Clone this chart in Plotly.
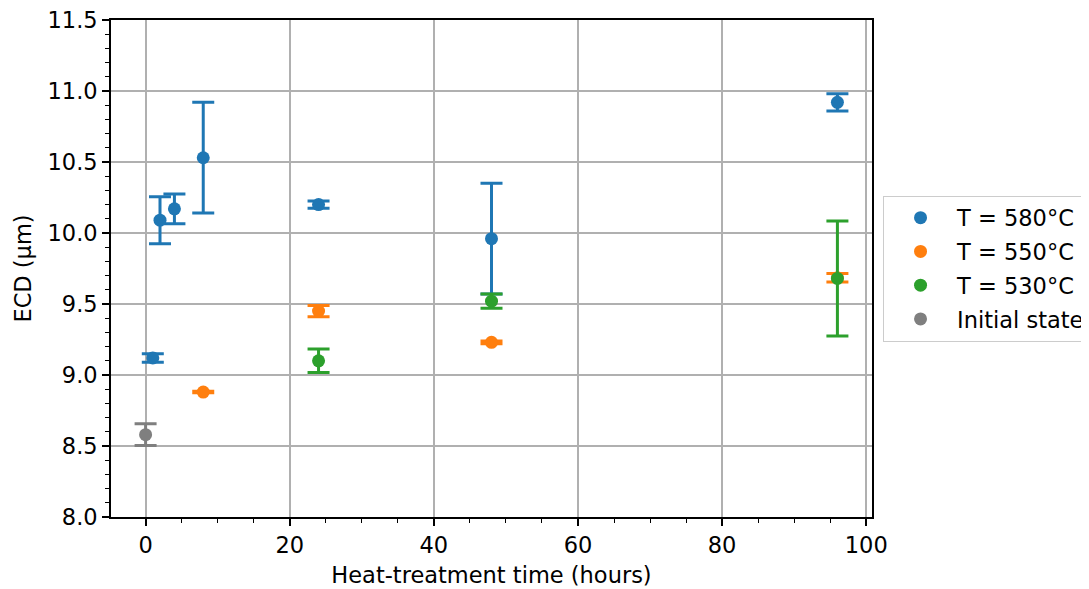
import plotly.graph_objects as go

# Data
time_580 = [1, 2, 4, 8, 24, 48, 96]
ecd_580 = [9.12, 10.09, 10.17, 10.53, 10.20, 9.96, 10.92]
err_580 = [0.03, 0.165, 0.105, 0.39, 0.025, 0.39, 0.06]

time_550 = [8, 24, 48, 96]
ecd_550 = [8.88, 9.45, 9.23, 9.685]
err_550 = [0.005, 0.04, 0.01, 0.03]

time_530 = [24, 48, 96]
ecd_530 = [9.10, 9.52, 9.68]
err_530 = [0.083, 0.05, 0.405]

time_init = [0]
ecd_init = [8.58]
err_init = [0.077]

series = [
    ("T = 580°C", time_580, ecd_580, err_580, "#1f77b4"),
    ("T = 550°C", time_550, ecd_550, err_550, "#ff7f0e"),
    ("T = 530°C", time_530, ecd_530, err_530, "#2ca02c"),
    ("Initial state", time_init, ecd_init, err_init, "#7f7f7f"),
]

FONT = "DejaVu Sans"
FS = 22.5

fig = go.Figure()
for i, (name, x, y, e, c) in enumerate(series):
    fig.add_trace(go.Scatter(
        x=x, y=y, mode="markers", name=name, legendgroup=f"g{i}",
        marker=dict(color=c, size=13),
        error_y=dict(type="data", array=e, visible=True, color=c,
                     thickness=3, width=11),
    ))

axis_common = dict(
    showline=True, linecolor="black", linewidth=1.7, mirror=True,
    ticks="outside", ticklen=7, tickwidth=1.7, tickcolor="black",
    showgrid=True, gridcolor="#b0b0b0", gridwidth=1.7,
    zeroline=False, automargin=False, ticklabeloverflow="allow",
    tickfont=dict(family=FONT, size=FS, color="black"),
)

fig.update_xaxes(
    range=[-4.8, 100.8], dtick=20, tick0=0,
    title=dict(text="Heat-treatment time (hours)", font=dict(family=FONT, size=FS, color="black"), standoff=10),
    minor=dict(ticks="outside", ticklen=4, tickwidth=1.4, tickcolor="black", dtick=5, tick0=0, showgrid=False),
    **axis_common,
)
fig.update_yaxes(
    range=[8.0, 11.5], dtick=0.5, tick0=8, tickformat=".1f",
    title=dict(text="ECD (µm)", font=dict(family=FONT, size=FS, color="black"), standoff=10),
    minor=dict(ticks="outside", ticklen=4, tickwidth=1.4, tickcolor="black", dtick=0.1, tick0=8, showgrid=False),
    **axis_common,
)

fig.update_layout(
    width=1089, height=589,
    margin=dict(l=103, r=225, t=12, b=80, autoexpand=False),
    paper_bgcolor="white", plot_bgcolor="white",
    font=dict(family=FONT, size=FS, color="black"),
    legend=dict(
        x=1.0145, y=0.5, xanchor="left", yanchor="middle",
        bordercolor="#cccccc", borderwidth=1, bgcolor="white",
        itemwidth=63, tracegroupgap=1.5,
        font=dict(family=FONT, size=FS, color="black"),
    ),
)

fig.write_html("out.html")
